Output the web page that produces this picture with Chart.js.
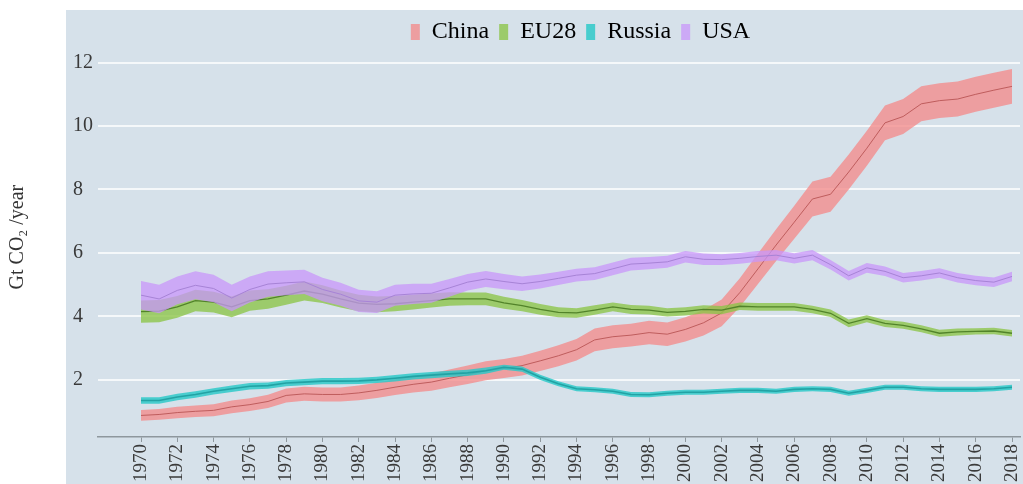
<!DOCTYPE html>
<html>
<head>
<meta charset="utf-8">
<title>CO2 emissions</title>
<script src="https://cdn.jsdelivr.net/npm/chart.js@4.4.1/dist/chart.umd.min.js"></script>
<style>
  html, body { margin: 0; padding: 0; background: #ffffff; overflow: hidden; }
  #wrap { width: 1023px; height: 484px; }
</style>
</head>
<body>
<div id="wrap"><canvas id="emissionsChart" width="1023" height="484"></canvas></div>
<script>
// years on the x axis
const years = [1970, 1971, 1972, 1973, 1974, 1975, 1976, 1977, 1978, 1979,
  1980, 1981, 1982, 1983, 1984, 1985, 1986, 1987, 1988, 1989,
  1990, 1991, 1992, 1993, 1994, 1995, 1996, 1997, 1998, 1999,
  2000, 2001, 2002, 2003, 2004, 2005, 2006, 2007, 2008, 2009,
  2010, 2011, 2012, 2013, 2014, 2015, 2016, 2017, 2018];
const xTicks = [1970, 1972, 1974, 1976, 1978, 1980, 1982, 1984, 1986, 1988, 1990, 1992,
  1994, 1996, 1998, 2000, 2002, 2004, 2006, 2008, 2010, 2012, 2014, 2016, 2018];
const yTicks = [2, 4, 6, 8, 10, 12];

// Gt CO2 / year, central estimate
const china = [0.88, 0.91, 0.97, 1.01, 1.04, 1.15, 1.22, 1.32, 1.51, 1.56,
  1.54, 1.54, 1.59, 1.67, 1.77, 1.86, 1.93, 2.05, 2.16, 2.29,
  2.36, 2.45, 2.6, 2.76, 2.95, 3.26, 3.36, 3.41, 3.49, 3.44,
  3.59, 3.8, 4.11, 4.75, 5.5, 6.25, 6.97, 7.7, 7.85, 8.55,
  9.3, 10.1, 10.3, 10.7, 10.8, 10.85, 11.0, 11.13, 11.25];
const eu28 = [4.15, 4.17, 4.3, 4.5, 4.45, 4.3, 4.5, 4.55, 4.67, 4.8,
  4.7, 4.55, 4.42, 4.38, 4.4, 4.45, 4.5, 4.55, 4.55, 4.55,
  4.43, 4.34, 4.22, 4.13, 4.11, 4.2, 4.3, 4.22, 4.2, 4.13,
  4.16, 4.22, 4.2, 4.32, 4.3, 4.3, 4.3, 4.22, 4.1, 3.78,
  3.93, 3.78, 3.72, 3.61, 3.47, 3.51, 3.53, 3.54, 3.47];
const russia = [1.35, 1.35, 1.46, 1.54, 1.64, 1.72, 1.8, 1.82, 1.9, 1.93,
  1.96, 1.96, 1.97, 2.0, 2.05, 2.11, 2.15, 2.19, 2.22, 2.29,
  2.4, 2.34, 2.08, 1.88, 1.72, 1.69, 1.64, 1.54, 1.53, 1.58,
  1.61, 1.61, 1.64, 1.67, 1.67, 1.64, 1.7, 1.72, 1.7, 1.58,
  1.67, 1.77, 1.77, 1.72, 1.7, 1.7, 1.7, 1.72, 1.77];
const usa = [4.67, 4.55, 4.82, 4.98, 4.88, 4.58, 4.85, 5.02, 5.06, 5.09,
  4.85, 4.7, 4.49, 4.45, 4.67, 4.71, 4.73, 4.9, 5.08, 5.18,
  5.1, 5.03, 5.1, 5.2, 5.3, 5.35, 5.5, 5.65, 5.68, 5.72,
  5.88, 5.8, 5.79, 5.83, 5.89, 5.93, 5.83, 5.93, 5.63, 5.28,
  5.53, 5.42, 5.22, 5.28, 5.37, 5.22, 5.13, 5.08, 5.26];

// half width of the uncertainty band, same units
const chinaErr = [0.17, 0.17, 0.18, 0.18, 0.19, 0.2, 0.2, 0.21, 0.22, 0.22,
  0.22, 0.22, 0.23, 0.24, 0.25, 0.26, 0.27, 0.28, 0.29, 0.3,
  0.3, 0.31, 0.32, 0.33, 0.34, 0.36, 0.36, 0.36, 0.37, 0.37,
  0.38, 0.4, 0.42, 0.45, 0.48, 0.5, 0.52, 0.55, 0.55, 0.55,
  0.55, 0.55, 0.55, 0.55, 0.55, 0.55, 0.55, 0.55, 0.55];
const euErr = [0.35, 0.35, 0.34, 0.34, 0.33, 0.33, 0.32, 0.31, 0.3, 0.3,
  0.28, 0.27, 0.26, 0.25, 0.24, 0.23, 0.22, 0.21, 0.2, 0.2,
  0.19, 0.18, 0.17, 0.16, 0.15, 0.15, 0.14, 0.14, 0.14, 0.13,
  0.13, 0.13, 0.13, 0.12, 0.12, 0.12, 0.12, 0.12, 0.12, 0.12,
  0.11, 0.11, 0.11, 0.11, 0.11, 0.11, 0.1, 0.1, 0.1];
const russiaErr = [0.1, 0.1, 0.1, 0.1, 0.1, 0.1, 0.1, 0.1, 0.1, 0.1,
  0.1, 0.1, 0.1, 0.1, 0.1, 0.1, 0.1, 0.1, 0.1, 0.1,
  0.08, 0.08, 0.08, 0.08, 0.08, 0.08, 0.08, 0.08, 0.08, 0.08,
  0.08, 0.08, 0.08, 0.08, 0.08, 0.08, 0.08, 0.08, 0.08, 0.08,
  0.08, 0.08, 0.08, 0.08, 0.08, 0.08, 0.08, 0.08, 0.08];
const usaErr = [0.45, 0.45, 0.44, 0.44, 0.43, 0.42, 0.41, 0.4, 0.39, 0.38,
  0.37, 0.36, 0.35, 0.34, 0.33, 0.32, 0.3, 0.28, 0.26, 0.25,
  0.24, 0.23, 0.22, 0.21, 0.2, 0.2, 0.2, 0.2, 0.19, 0.19,
  0.18, 0.18, 0.17, 0.17, 0.17, 0.16, 0.16, 0.16, 0.15, 0.15,
  0.15, 0.15, 0.15, 0.15, 0.15, 0.15, 0.15, 0.15, 0.15];

const seriesNames = ['China', 'EU28', 'Russia', 'USA'];
const seriesValues = [china, eu28, russia, usa];
const seriesErrors = [chinaErr, euErr, russiaErr, usaErr];
const bandColors = ['rgba(243,139,139,0.78)', 'rgba(140,196,70,0.78)', 'rgba(40,200,200,0.82)', 'rgba(200,150,250,0.75)'];
const lineColors = ['rgba(185,85,85,0.9)', '#52832a', '#22a2a4', '#a783d6'];
const lineWidths = [1, 1.3, 1.6, 1];

const serif = "'Liberation Serif', 'Times New Roman', serif";

// one band (upper filled down to lower) plus the centre line per country
// china goes underneath, usa on top
const datasets = [];
seriesNames.forEach((name, s) => {
  const values = seriesValues[s];
  const err = seriesErrors[s];
  const layer = seriesNames.length - s;
  datasets.push({
    label: name + ' upper',
    data: years.map((yr, i) => ({ x: yr, y: values[i] + err[i] })),
    borderWidth: 0,
    pointRadius: 0,
    backgroundColor: bandColors[s],
    fill: '+1',
    order: layer
  });
  datasets.push({
    label: name + ' lower',
    data: years.map((yr, i) => ({ x: yr, y: values[i] - err[i] })),
    borderWidth: 0,
    pointRadius: 0,
    fill: false,
    order: layer
  });
  datasets.push({
    label: name,
    data: years.map((yr, i) => ({ x: yr, y: values[i] })),
    borderColor: lineColors[s],
    borderWidth: lineWidths[s],
    pointRadius: 0,
    fill: false,
    order: layer - 0.1
  });
});

// grey-blue panel behind the plot, white margin on the left and top
const panelPlugin = {
  id: 'panel',
  beforeDraw(chart) {
    const ctx = chart.ctx;
    ctx.save();
    ctx.fillStyle = '#ffffff';
    ctx.fillRect(0, 0, chart.width, chart.height);
    ctx.fillStyle = '#d6e1ea';
    ctx.fillRect(66, 10, chart.width - 66, chart.height - 10);
    ctx.restore();
  }
};

// legend is not centred on the canvas in the original
const legendShift = {
  id: 'legendShift',
  afterLayout(chart) {
    chart.legend.left += 34;
    chart.legend.right += 34;
  }
};

// axis title sits out in the white margin
const yTitlePlugin = {
  id: 'yTitle',
  afterDraw(chart) {
    const ctx = chart.ctx;
    const yMid = chart.scales.y.getPixelForValue(6.5);
    ctx.save();
    ctx.translate(18, yMid);
    ctx.rotate(-Math.PI / 2);
    ctx.font = '20px ' + serif;
    ctx.fillStyle = '#333333';
    ctx.textAlign = 'center';
    ctx.textBaseline = 'middle';
    ctx.fillText('Gt CO\u2082 /year', 0, 0);
    ctx.restore();
  }
};

Chart.defaults.font.family = serif;
Chart.defaults.color = '#3a3a3a';

const ctx = document.getElementById('emissionsChart').getContext('2d');
new Chart(ctx, {
  type: 'line',
  data: { datasets },
  plugins: [panelPlugin, legendShift, yTitlePlugin],
  options: {
    responsive: false,
    animation: false,
    layout: { padding: { left: 73, right: 3, top: 10, bottom: 0 } },
    scales: {
      x: {
        type: 'linear',
        min: 1967.63,
        max: 2018.44,
        afterBuildTicks: axis => { axis.ticks = xTicks.map(v => ({ value: v })); },
        afterFit: axis => { axis.paddingLeft = 0; axis.paddingRight = 0; },
        ticks: {
          minRotation: 90,
          maxRotation: 90,
          padding: 2,
          font: { size: 19 },
          color: '#3a3a3a',
          callback: v => String(v)
        },
        grid: { drawOnChartArea: false, drawTicks: true, tickLength: 5, color: '#8e979d', lineWidth: 1 },
        border: { display: true, color: '#8e979d', width: 1.5 }
      },
      y: {
        min: 0.2,
        max: 12.27,
        afterBuildTicks: axis => { axis.ticks = yTicks.map(v => ({ value: v })); },
        afterFit: axis => { axis.width = 25; },
        ticks: {
          crossAlign: 'far',
          padding: 5,
          font: { size: 20 },
          color: '#3a3a3a',
          callback: v => String(v)
        },
        grid: { drawTicks: false, color: '#f5f8fa', lineWidth: 2 },
        border: { display: false }
      }
    },
    plugins: {
      legend: {
        position: 'top',
        onClick: null,
        labels: {
          font: { size: 24 },
          color: '#2b2b2b',
          boxWidth: 9,
          boxHeight: 16,
          padding: 10,
          generateLabels: () => seriesNames.map((name, s) => ({
            text: name,
            fillStyle: bandColors[s],
            strokeStyle: bandColors[s],
            lineWidth: 0,
            hidden: false,
            datasetIndex: s * 3 + 2
          }))
        }
      },
      tooltip: { enabled: false }
    }
  }
});
</script>
</body>
</html>
